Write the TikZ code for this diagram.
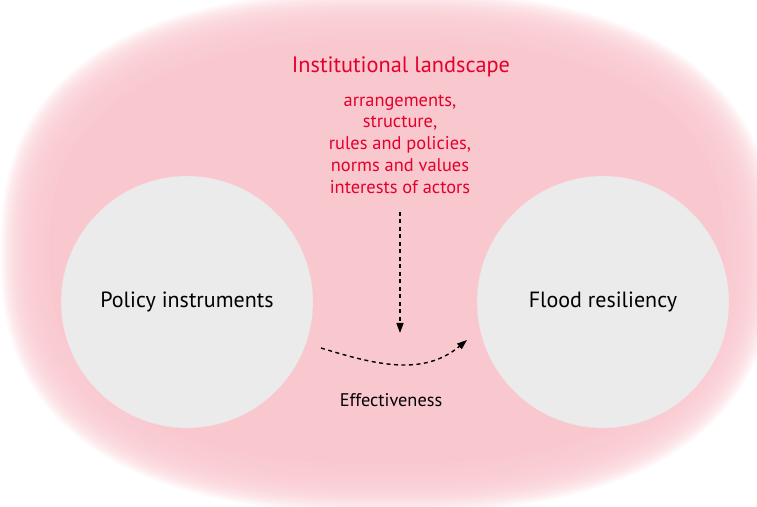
\documentclass[tikz,border=0pt]{standalone}
\usepackage{fontspec}
\setmainfont{PT Sans}
\definecolor{landpink}{RGB}{249, 200, 207}
\definecolor{circgrey}{RGB}{235, 235, 235}
\definecolor{instred}{RGB}{228, 0, 43}
\usetikzlibrary{arrows.meta, positioning}

\begin{document}
\begin{tikzpicture}[x=1pt, y=1pt,
  field/.style={circle, fill=circgrey, draw=landpink!70!red!40, line width=0.3pt, minimum size=252pt, inner sep=0pt, font=\fontsize{22}{26}\selectfont},
  flow/.style={line width=1.4pt, dash pattern=on 4pt off 3.5pt, -{Triangle[length=10pt, width=7pt]}}
]
  \useasboundingbox (0,0) rectangle (757,506);
  % blurred landscape
  \foreach \d in {24,22,...,-24}{
    \fill[landpink, opacity=0.13] plot[domain=0.5:360.5, samples=120, smooth cycle]
      ({387+(362+\d)*sign(cos(\x))*(abs(cos(\x))+0.0001)^0.8},
       {254+(236+\d)*sign(sin(\x))*(abs(sin(\x))+0.0001)^0.8});
  }
  \fill[landpink] plot[domain=0.5:360.5, samples=120, smooth cycle]
    ({387+338*sign(cos(\x))*(abs(cos(\x))+0.0001)^0.8},
     {254+212*sign(sin(\x))*(abs(sin(\x))+0.0001)^0.8});

  \node[field] (policy) at (187, 204) {Policy instruments};
  \node[field] (flood) at (603, 204) {Flood resiliency};

  \node[text=instred, font=\fontsize{22.3}{26}\selectfont] (landscape) at (401, 439) {Institutional landscape};
  \node[text=instred, align=center, font=\fontsize{18.4}{21.7}\selectfont] (factors) at (400, 362) {
    arrangements,\\
    structure,\\
    rules and policies,\\
    norms and values\\
    interests of actors
  };
  \node[font=\fontsize{18.3}{21}\selectfont] (effect) at (391, 106) {Effectiveness};

  \coordinate (cause) at (400, 294);
  \coordinate (influence) at (400, 173);
  \coordinate (effstart) at (321, 158);
  \coordinate (effend) at (467, 166);
  \draw[flow] (cause) -- (influence);
  \draw[flow] (effstart) to[out=-17, in=-140] (effend);
\end{tikzpicture}
\end{document}
